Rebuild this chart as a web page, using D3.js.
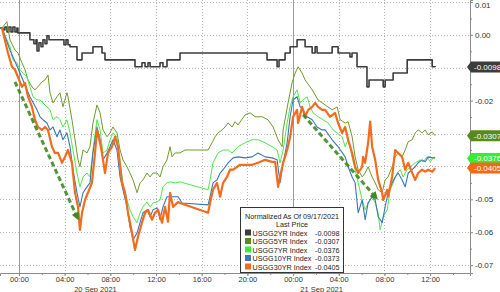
<!DOCTYPE html>
<html>
<head>
<meta charset="utf-8">
<script src="https://cdn.jsdelivr.net/npm/d3@7"></script>
<style>
  body { margin: 0; background: #fff; }
  svg { display: block; font-family: "Liberation Sans", Arial, sans-serif; }
</style>
</head>
<body>
<div id="chart"></div>
<script>
// times are hours after 20 Sep 2021 00:00, values are the normalized yield change
var t2 = [-1.66, -1.40, -1.23, -1.05, -0.88, -0.70, -0.53, -0.35, -0.18, -0.09, 0.96, 1.31, 1.49, 1.58, 1.75, 1.93, 2.10, 2.28, 2.45, 2.63, 3.94, 4.12, 4.29, 4.47, 5.08, 5.52, 6.48, 7.27, 7.53, 10.16, 10.77, 11.04, 11.30, 11.48, 12.35, 12.61, 12.96, 14.10, 21.72, 22.60, 22.77, 23.30, 23.74, 24.35, 25.05, 25.67, 25.93, 26.10, 27.42, 27.94, 28.98, 29.16, 29.60, 30.47, 30.65, 31.89, 32.06, 32.76, 33.99, 36.18, 36.44];
var v2 = [0.0021, 0.0015, 0.0024, 0.0009, 0.0024, 0.0009, 0.0024, 0.0009, 0.0021, 0.0006, -0.0015, -0.0027, -0.0015, -0.0049, -0.0024, -0.0036, -0.0015, -0.0027, -0.0003, -0.0015, -0.0030, -0.0015, -0.0030, -0.0036, -0.0076, -0.0055, -0.0036, -0.0055, -0.0076, -0.0097, -0.0085, -0.0097, -0.0085, -0.0097, -0.0085, -0.0097, -0.0076, -0.0055, -0.0076, -0.0097, -0.0076, -0.0055, -0.0036, -0.0015, -0.0036, -0.0055, -0.0036, -0.0055, -0.0036, -0.0055, -0.0067, -0.0055, -0.0097, -0.0158, -0.0137, -0.0158, -0.0137, -0.0116, -0.0076, -0.0097, -0.0098];

var t5 = [-1.49, -1.05, -0.79, -0.35, -0.09, 0.26, 0.53, 0.79, 1.14, 1.40, 1.66, 2.01, 2.28, 2.54, 2.72, 2.98, 3.33, 3.59, 3.85, 4.20, 4.29, 4.64, 4.91, 5.17, 5.34, 5.61, 5.96, 6.22, 6.48, 6.83, 7.10, 7.36, 7.71, 7.97, 8.23, 8.58, 8.85, 9.11, 9.46, 9.72, 9.99, 10.34, 10.60, 10.86, 11.21, 11.48, 11.74, 12.09, 12.35, 12.61, 12.96, 13.23, 13.40, 13.67, 14.10, 14.54, 16.56, 16.91, 17.17, 17.43, 17.78, 18.05, 18.31, 18.66, 18.92, 19.18, 19.80, 20.24, 20.67, 21.29, 21.81, 22.25, 22.69, 23.04, 23.13, 23.56, 23.91, 24.18, 24.44, 24.79, 25.05, 25.67, 26.19, 26.81, 27.42, 27.86, 28.12, 28.56, 28.82, 29.17, 29.43, 29.70, 30.05, 30.31, 30.57, 30.92, 31.19, 31.45, 31.80, 32.06, 32.32, 32.67, 32.94, 33.20, 33.55, 33.81, 34.08, 34.43, 34.69, 34.95, 35.30, 35.57, 35.83, 36.18, 36.44];
var v5 = [0.0021, 0.0040, -0.0015, -0.0046, -0.0055, -0.0085, -0.0106, -0.0137, -0.0158, -0.0167, -0.0158, -0.0143, -0.0137, -0.0122, -0.0176, -0.0207, -0.0188, -0.0176, -0.0219, -0.0176, -0.0188, -0.0258, -0.0319, -0.0380, -0.0401, -0.0350, -0.0359, -0.0340, -0.0268, -0.0213, -0.0237, -0.0289, -0.0310, -0.0298, -0.0280, -0.0298, -0.0350, -0.0380, -0.0401, -0.0420, -0.0441, -0.0480, -0.0450, -0.0441, -0.0420, -0.0432, -0.0420, -0.0420, -0.0432, -0.0401, -0.0380, -0.0340, -0.0371, -0.0359, -0.0359, -0.0350, -0.0350, -0.0328, -0.0310, -0.0298, -0.0289, -0.0280, -0.0268, -0.0280, -0.0264, -0.0274, -0.0243, -0.0237, -0.0249, -0.0249, -0.0258, -0.0280, -0.0319, -0.0340, -0.0289, -0.0207, -0.0146, -0.0116, -0.0097, -0.0116, -0.0137, -0.0167, -0.0198, -0.0213, -0.0228, -0.0219, -0.0258, -0.0268, -0.0264, -0.0310, -0.0371, -0.0410, -0.0432, -0.0420, -0.0401, -0.0432, -0.0450, -0.0471, -0.0480, -0.0441, -0.0432, -0.0401, -0.0371, -0.0359, -0.0371, -0.0350, -0.0325, -0.0319, -0.0298, -0.0289, -0.0298, -0.0289, -0.0304, -0.0295, -0.0307];

var t7 = [-1.49, -0.79, -0.53, -0.18, 0.09, 0.35, 0.70, 0.96, 1.23, 1.58, 1.84, 2.10, 2.45, 2.72, 2.98, 3.33, 3.59, 3.85, 4.20, 4.47, 4.73, 5.08, 5.34, 5.61, 5.96, 6.22, 6.48, 6.83, 7.10, 7.36, 7.71, 7.97, 8.23, 8.58, 8.85, 9.11, 9.46, 9.72, 9.99, 10.34, 10.60, 10.86, 11.21, 11.48, 11.74, 12.09, 12.35, 12.61, 12.96, 13.23, 13.67, 14.10, 16.56, 16.73, 16.99, 17.43, 17.87, 18.31, 18.66, 18.92, 19.18, 19.80, 20.41, 20.94, 21.55, 22.16, 22.60, 22.86, 23.13, 23.48, 23.74, 24.00, 24.35, 24.62, 24.88, 25.23, 25.49, 25.75, 26.19, 26.63, 27.07, 27.51, 28.29, 28.56, 28.82, 29.17, 29.43, 29.70, 30.05, 30.31, 30.57, 30.92, 31.19, 31.45, 31.62, 31.89, 32.24, 32.50, 32.76, 33.11, 33.38, 33.64, 33.99, 34.25, 34.69, 35.13, 35.39, 35.74, 36.00, 36.27, 36.44];
var v7 = [0.0021, -0.0036, -0.0076, -0.0085, -0.0106, -0.0116, -0.0128, -0.0158, -0.0188, -0.0198, -0.0198, -0.0207, -0.0219, -0.0228, -0.0258, -0.0249, -0.0258, -0.0280, -0.0258, -0.0298, -0.0350, -0.0420, -0.0462, -0.0432, -0.0420, -0.0432, -0.0350, -0.0258, -0.0289, -0.0359, -0.0350, -0.0319, -0.0298, -0.0310, -0.0389, -0.0450, -0.0502, -0.0532, -0.0553, -0.0571, -0.0541, -0.0523, -0.0508, -0.0523, -0.0511, -0.0508, -0.0502, -0.0462, -0.0450, -0.0447, -0.0450, -0.0447, -0.0471, -0.0441, -0.0389, -0.0359, -0.0350, -0.0350, -0.0359, -0.0350, -0.0340, -0.0328, -0.0319, -0.0319, -0.0328, -0.0340, -0.0350, -0.0389, -0.0350, -0.0268, -0.0219, -0.0188, -0.0167, -0.0207, -0.0198, -0.0188, -0.0219, -0.0237, -0.0249, -0.0258, -0.0268, -0.0289, -0.0310, -0.0340, -0.0319, -0.0371, -0.0410, -0.0450, -0.0502, -0.0532, -0.0511, -0.0492, -0.0511, -0.0541, -0.0593, -0.0553, -0.0532, -0.0471, -0.0450, -0.0420, -0.0410, -0.0432, -0.0410, -0.0401, -0.0389, -0.0380, -0.0386, -0.0371, -0.0386, -0.0374, -0.0376];

var t10 = [-1.49, -0.79, 0.09, 0.96, 1.58, 1.84, 2.10, 2.45, 2.72, 2.98, 3.33, 3.59, 3.85, 4.20, 4.47, 4.73, 5.08, 5.34, 5.61, 5.96, 6.22, 6.48, 6.83, 7.10, 7.36, 7.71, 7.97, 8.23, 8.58, 8.85, 9.11, 9.46, 9.72, 9.99, 10.34, 10.60, 10.86, 11.21, 11.48, 11.74, 12.09, 12.35, 12.61, 12.96, 13.23, 13.93, 14.28, 16.56, 16.73, 16.99, 17.34, 17.61, 17.87, 18.31, 18.75, 19.18, 19.80, 20.41, 20.94, 21.55, 22.16, 22.60, 22.86, 23.13, 23.48, 23.74, 24.00, 24.35, 24.62, 24.88, 25.23, 25.67, 26.10, 26.54, 26.81, 27.42, 27.94, 28.56, 28.82, 29.17, 29.43, 29.70, 30.05, 30.31, 30.57, 30.92, 31.19, 31.45, 31.80, 32.06, 32.32, 32.67, 32.94, 33.20, 33.55, 33.81, 34.08, 34.43, 34.69, 34.95, 35.30, 35.57, 35.83, 36.18, 36.44];
var v10 = [0.0021, -0.0046, -0.0116, -0.0188, -0.0228, -0.0249, -0.0258, -0.0268, -0.0289, -0.0280, -0.0310, -0.0289, -0.0319, -0.0298, -0.0340, -0.0410, -0.0480, -0.0523, -0.0480, -0.0462, -0.0450, -0.0359, -0.0280, -0.0319, -0.0380, -0.0359, -0.0340, -0.0319, -0.0350, -0.0432, -0.0471, -0.0523, -0.0584, -0.0623, -0.0602, -0.0571, -0.0541, -0.0532, -0.0553, -0.0532, -0.0526, -0.0562, -0.0523, -0.0492, -0.0492, -0.0492, -0.0511, -0.0517, -0.0492, -0.0450, -0.0441, -0.0420, -0.0410, -0.0389, -0.0374, -0.0371, -0.0374, -0.0371, -0.0359, -0.0371, -0.0374, -0.0380, -0.0450, -0.0389, -0.0328, -0.0249, -0.0198, -0.0188, -0.0219, -0.0228, -0.0249, -0.0258, -0.0280, -0.0289, -0.0289, -0.0319, -0.0340, -0.0371, -0.0401, -0.0432, -0.0450, -0.0541, -0.0502, -0.0562, -0.0511, -0.0492, -0.0502, -0.0553, -0.0571, -0.0523, -0.0480, -0.0450, -0.0432, -0.0420, -0.0441, -0.0462, -0.0420, -0.0410, -0.0401, -0.0389, -0.0380, -0.0386, -0.0371, -0.0374, -0.0373];

var t30 = [-1.49, -0.96, -0.61, -0.35, -0.09, 0.26, 0.53, 0.79, 1.14, 1.40, 1.66, 2.01, 2.28, 2.54, 2.89, 3.15, 3.42, 3.77, 4.03, 4.29, 4.64, 4.91, 5.17, 5.34, 5.52, 5.78, 6.04, 6.39, 6.66, 6.83, 7.10, 7.27, 7.53, 7.80, 8.15, 8.41, 8.67, 9.02, 9.29, 9.55, 9.90, 10.16, 10.42, 10.77, 11.04, 11.30, 11.65, 11.91, 12.18, 12.53, 12.79, 13.05, 13.23, 13.49, 13.93, 14.10, 16.56, 16.73, 16.99, 17.34, 17.61, 17.87, 18.22, 18.48, 18.75, 19.10, 19.36, 19.80, 20.41, 20.94, 21.55, 22.16, 22.43, 22.69, 22.86, 23.13, 23.48, 23.74, 24.00, 24.35, 24.44, 24.79, 25.05, 25.32, 25.67, 25.93, 26.19, 26.54, 26.81, 27.24, 27.68, 27.94, 28.29, 28.56, 28.82, 29.17, 29.43, 29.70, 30.05, 30.13, 30.31, 30.57, 30.75, 30.92, 31.19, 31.45, 31.80, 31.89, 32.24, 32.32, 32.67, 32.94, 33.20, 33.55, 33.81, 34.08, 34.43, 34.69, 34.95, 35.30, 35.57, 35.83, 36.18, 36.44];
var v30 = [0.0021, -0.0055, -0.0097, -0.0106, -0.0128, -0.0158, -0.0146, -0.0188, -0.0219, -0.0258, -0.0280, -0.0289, -0.0280, -0.0289, -0.0340, -0.0359, -0.0359, -0.0389, -0.0371, -0.0350, -0.0389, -0.0480, -0.0523, -0.0593, -0.0541, -0.0502, -0.0480, -0.0450, -0.0359, -0.0289, -0.0328, -0.0359, -0.0420, -0.0359, -0.0340, -0.0310, -0.0340, -0.0450, -0.0480, -0.0541, -0.0602, -0.0654, -0.0614, -0.0571, -0.0541, -0.0532, -0.0562, -0.0541, -0.0532, -0.0571, -0.0523, -0.0568, -0.0480, -0.0523, -0.0508, -0.0511, -0.0541, -0.0511, -0.0471, -0.0450, -0.0492, -0.0450, -0.0432, -0.0410, -0.0410, -0.0401, -0.0395, -0.0395, -0.0395, -0.0389, -0.0380, -0.0386, -0.0386, -0.0462, -0.0432, -0.0389, -0.0350, -0.0310, -0.0249, -0.0228, -0.0268, -0.0219, -0.0249, -0.0228, -0.0219, -0.0207, -0.0219, -0.0228, -0.0228, -0.0249, -0.0237, -0.0268, -0.0298, -0.0280, -0.0319, -0.0359, -0.0401, -0.0420, -0.0401, -0.0371, -0.0389, -0.0328, -0.0264, -0.0340, -0.0380, -0.0441, -0.0480, -0.0502, -0.0471, -0.0492, -0.0432, -0.0350, -0.0359, -0.0371, -0.0410, -0.0389, -0.0420, -0.0441, -0.0420, -0.0410, -0.0416, -0.0410, -0.0416, -0.0405];

var names = ["USGG2YR Index", "USGG5YR Index", "USGG7YR Index", "USGG10YR Index", "USGG30YR Index"];
var lastValues = [-0.0098, -0.0307, -0.0376, -0.0373, -0.0405];
var yTicks = [0.01, 0.00, -0.01, -0.02, -0.03, -0.04, -0.05, -0.06, -0.07];
var dayLabels = ["20 Sep 2021", "21 Sep 2021"];
var dayLabelHours = [6.7, 26.5];
// the two dashed arrows drawn on the chart (start, end)
var arrowT = [[-0.35, 5.08], [24.88, 31.19]];
var arrowV = [[-0.0143, -0.0553], [-0.0243, -0.0492]];

var colors = ["#3c3c3c", "#6f9a2c", "#4ee84e", "#3b76b5", "#f26c1c"];
var widths = [1.6, 1, 1, 1.1, 2.2];
var badgeColors = ["#3c3c3c", "#5a8a1a", "#33ee33", "#3b76b5", "#f26a14"];
var badgeSeries = [0, 1, 2, 4];   // 10YR badge sits behind the 7YR one

var W = 500, H = 292, plotW = 470, plotH = 273;
var base = new Date(2021, 8, 20, 0, 0);
function toDate(h) { return new Date(base.getTime() + h * 3600000); }
function fmt(v, p) { return d3.format("." + p + "f")(v).replace("\u2212", "-"); }

var svg = d3.select("#chart").append("svg")
    .attr("width", W)
    .attr("height", H);

var x = d3.scaleTime()
    .domain([toDate(-1.66), toDate(39.49)])
    .range([0, plotW]);
var y = d3.scaleLinear()
    .domain([0.0106, -0.0724])
    .range([0, plotH]);

// grid
var hourTicks = d3.timeHour.every(4).range(x.domain()[0], x.domain()[1]);
svg.append("g").selectAll("line")
  .data(yTicks)
  .enter().append("line")
    .attr("x1", 0).attr("x2", plotW)
    .attr("y1", function(d) { return Math.round(y(d)) + 0.5 })
    .attr("y2", function(d) { return Math.round(y(d)) + 0.5 })
    .attr("stroke", "#b4b4b4")
    .attr("stroke-dasharray", "1,2");
svg.append("g").selectAll("line")
  .data(hourTicks)
  .enter().append("line")
    .attr("x1", function(d) { return Math.round(x(d)) + 0.5 })
    .attr("x2", function(d) { return Math.round(x(d)) + 0.5 })
    .attr("y1", 0).attr("y2", plotH)
    .attr("stroke", function(d) { return d.getHours() == 0 ? "#9a9a9a" : "#b4b4b4" })
    .attr("stroke-dasharray", function(d) { return d.getHours() == 0 ? null : "1,2" });

// x axis
var xAxis = svg.append("g")
    .attr("transform", "translate(0," + plotH + ")")
    .call(d3.axisBottom(x).tickValues(hourTicks).tickFormat(d3.timeFormat("%H:%M")).tickSize(3).tickPadding(1));
xAxis.select(".domain").attr("stroke", "#8a8a8a");
xAxis.selectAll(".tick line").attr("stroke", "#8a8a8a");
xAxis.selectAll("text").attr("font-size", 7.5).attr("fill", "#333");
svg.append("g")
    .attr("transform", "translate(0," + plotH + ")")
    .call(d3.axisBottom(x).ticks(d3.timeHour.every(2)).tickFormat("").tickSize(2))
    .call(function(g) { g.select(".domain").remove(); g.selectAll("line").attr("stroke", "#8a8a8a"); });
svg.append("g").selectAll("text")
  .data(dayLabels)
  .enter().append("text")
    .attr("x", function(d, i) { return x(toDate(dayLabelHours[i])) })
    .attr("y", 291.5)
    .attr("text-anchor", "middle")
    .attr("font-size", 7.5)
    .attr("fill", "#333")
    .text(function(d) { return d });

// y axis on the right
var yAxis = svg.append("g")
    .attr("transform", "translate(" + plotW + ",0)")
    .call(d3.axisRight(y).tickValues(yTicks).tickFormat(function(d) { return fmt(d, 2) }).tickSize(3).tickPadding(2));
yAxis.select(".domain").attr("stroke", "#8a8a8a");
yAxis.selectAll(".tick line").attr("stroke", "#8a8a8a");
yAxis.selectAll("text").attr("font-size", 8).attr("fill", "#333");
// top label sits just inside the picture
yAxis.selectAll(".tick text").filter(function(d) { return d == yTicks[0] }).attr("dy", "0.75em");
// labels under a last-value badge are not shown
yAxis.selectAll(".tick text").filter(function(d) {
  return badgeSeries.some(function(i) { return Math.abs(y(d) - y(lastValues[i])) < 9 });
}).remove();
svg.append("g")
    .attr("transform", "translate(" + plotW + ",0)")
    .call(d3.axisRight(y).tickValues(d3.range(yTicks.length - 1).map(function(i) { return (yTicks[i] + yTicks[i + 1]) / 2 })).tickFormat("").tickSize(2))
    .call(function(g) { g.select(".domain").remove(); g.selectAll("line").attr("stroke", "#8a8a8a"); });

// lines
var series = [[t2, v2], [t5, v5], [t7, v7], [t10, v10], [t30, v30]];
series.forEach(function(s, i) {
  var pts = s[0].map(function(t, j) { return [t, s[1][j]] });
  var line = d3.line()
    .x(function(d) { return x(toDate(d[0])) })
    .y(function(d) { return y(d[1]) });
  if (i == 0) line.curve(d3.curveStepAfter);
  svg.append("path")
    .datum(pts)
    .attr("fill", "none")
    .attr("stroke", colors[i])
    .attr("stroke-width", widths[i])
    .attr("stroke-linejoin", "round")
    .attr("d", line);
});

// dashed arrows
svg.append("defs").append("marker")
    .attr("id", "head")
    .attr("markerUnits", "userSpaceOnUse")
    .attr("viewBox", "0 0 8 8")
    .attr("refX", 4).attr("refY", 4)
    .attr("markerWidth", 8).attr("markerHeight", 8)
    .attr("orient", "auto")
  .append("path")
    .attr("d", "M0,0L8,4L0,8z")
    .attr("fill", "#3d8a22");
arrowT.forEach(function(a, i) {
  svg.append("line")
    .attr("x1", x(toDate(a[0]))).attr("y1", y(arrowV[i][0]))
    .attr("x2", x(toDate(a[1]))).attr("y2", y(arrowV[i][1]))
    .attr("stroke", "#3d8a22")
    .attr("stroke-opacity", 0.9)
    .attr("stroke-width", 3)
    .attr("stroke-dasharray", "5,3")
    .attr("marker-end", "url(#head)");
});

// last value badges
badgeSeries.forEach(function(i) {
  var g = svg.append("g").attr("transform", "translate(" + plotW + "," + y(lastValues[i]) + ")");
  g.append("path")
    .attr("d", "M-3,0L1,-5.5L32,-5.5L32,5.5L1,5.5Z")
    .attr("fill", badgeColors[i]);
  g.append("text")
    .attr("x", 4).attr("dy", "0.35em")
    .attr("font-size", 8)
    .attr("fill", "#fff")
    .text(fmt(lastValues[i], 4));
});

// legend
var legend = svg.append("g")
    .attr("transform", "translate(240.5,207.5)")
    .attr("font-size", 7.2)
    .attr("fill", "#222");
legend.append("rect")
    .attr("width", 103).attr("height", 65)
    .attr("fill", "#fff")
    .attr("stroke", "#333");
legend.append("text")
    .attr("x", 51.5).attr("y", 11)
    .attr("text-anchor", "middle")
    .text("Normalized As Of 09/17/2021");
legend.append("text")
    .attr("x", 51.5).attr("y", 19.5)
    .attr("text-anchor", "middle")
    .text("Last Price");
var rows = legend.selectAll(".row")
  .data(names)
  .enter().append("g")
    .attr("transform", function(d, i) { return "translate(0," + (28 + i * 8.5) + ")" });
rows.append("rect")
    .attr("x", 4.5).attr("y", -6)
    .attr("width", 6).attr("height", 6)
    .attr("fill", function(d, i) { return badgeColors[i] });
rows.append("text")
    .attr("x", 12)
    .text(function(d) { return d });
rows.append("text")
    .attr("x", 99).attr("text-anchor", "end")
    .text(function(d, i) { return fmt(lastValues[i], 4) });
</script>
</body>
</html>
